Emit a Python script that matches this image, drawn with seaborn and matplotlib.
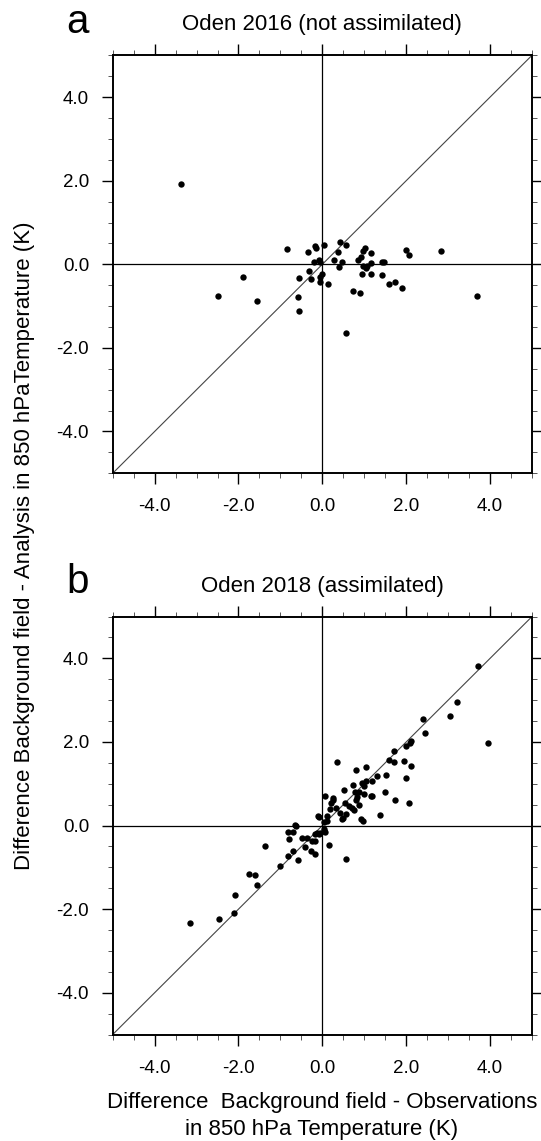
import numpy as np
import pandas as pd
import seaborn as sns
from matplotlib import pyplot as plt
from matplotlib.ticker import MultipleLocator, FormatStrFormatter

# background - observations (x) vs background - analysis (y), 850 hPa temperature (K)
oden2016_bg_obs = [
    -3.38, -0.84, -0.34, -0.17, -0.16, 0.05, 0.41, 0.38, 0.56, 1.02, 0.96, 1.16, 0.92,
    0.86, 2.00, 2.07, 2.83, -0.19, -0.08, -0.06, 0.28, 0.47, 0.40, 0.98, 1.04, 1.15,
    1.42, 1.48, 0.94, 1.16, 1.42, -0.31, 0.00, -0.55, -0.26, -0.06, -0.06, 0.14, -1.90,
    1.60, 1.74, 1.90, 0.72, 0.90, -2.48, -1.55, -0.58, -0.55, 0.56, 3.68, 1.06,
]
oden2016_bg_ana = [
    1.92, 0.37, 0.29, 0.44, 0.40, 0.47, 0.53, 0.30, 0.46, 0.40, 0.32, 0.26, 0.18,
    0.10, 0.35, 0.22, 0.31, 0.06, 0.11, 0.06, 0.10, 0.06, -0.06, -0.04, -0.10, 0.03,
    0.06, 0.06, -0.24, -0.22, -0.25, -0.16, -0.22, -0.33, -0.36, -0.31, -0.42, -0.47, -0.30,
    -0.48, -0.42, -0.57, -0.65, -0.68, -0.76, -0.88, -0.78, -1.11, -1.65, -0.77, -0.04,
]

oden2018_bg_obs = [
    3.71, 3.21, 3.05, 2.39, 2.46, 3.96, 2.12, 2.09, 2.00, 1.72, 1.58, 1.71, 1.95, 2.12,
    0.36, 0.80, 1.05, 1.30, 1.52, 1.99, 1.18, 1.03, 0.94, 0.72, 1.00, 0.51, 1.50, 0.79,
    0.88, 1.00, 1.19, 1.15, 0.06, 0.25, 0.82, 1.74,
    2.07, 0.20, 0.25, 0.32, 0.18, 0.53, 0.63, 0.71, 0.76, 0.87, 0.80, 0.42, 0.57, 0.47,
    0.50, 0.92, 0.98, 1.38, -0.10, -0.09, 0.12, 0.11, 0.05, -0.64, -0.63, -0.83, -0.71,
    -0.80, -0.49, -0.37, -0.18, -0.12, -0.09, 0.05, 0.06, 0.03, -0.06, -0.25, -0.18,
    -0.41, -0.28, -0.18, -0.70, -0.82, -0.58, 0.15, 0.57, -1.36, -1.01, -1.74, -1.60,
    -1.56, -2.08, -2.10, -2.47, -3.16,
]
oden2018_bg_ana = [
    3.81, 2.96, 2.62, 2.56, 2.22, 1.98, 2.02, 1.97, 1.91, 1.78, 1.58, 1.52, 1.54, 1.42,
    1.52, 1.32, 1.41, 1.18, 1.20, 1.14, 1.06, 1.06, 1.01, 0.96, 0.94, 0.84, 0.80, 0.80,
    0.80, 0.76, 0.71, 0.70, 0.70, 0.67, 0.69, 0.61,
    0.54, 0.55, 0.60, 0.43, 0.40, 0.53, 0.47, 0.42, 0.37, 0.49, 0.60, 0.29, 0.27, 0.16,
    0.19, 0.15, 0.12, 0.25, 0.24, 0.20, 0.23, 0.11, 0.09, 0.02, -0.01, -0.16, -0.16,
    -0.33, -0.29, -0.29, -0.20, -0.17, -0.19, -0.09, -0.16, -0.12, -0.18, -0.37, -0.37,
    -0.52, -0.60, -0.69, -0.60, -0.72, -0.82, -0.46, -0.81, -0.49, -0.96, -1.16, -1.19,
    -1.42, -1.66, -2.10, -2.24, -2.32,
]

panel_letters = ["a", "b"]
panel_titles = ["Oden 2016 (not assimilated)", "Oden 2018 (assimilated)"]
major_ticks = [-4.0, -2.0, 0.0, 2.0, 4.0]

plt.rcParams["font.family"] = ["Liberation Sans", "DejaVu Sans"]

fig = plt.figure(figsize=(5.41, 11.41), dpi=100)
ax_a = fig.add_axes([0.2083, 0.5852, 0.775, 0.3663])
ax_b = fig.add_axes([0.2083, 0.0933, 0.775, 0.3663])

panels = [
    (ax_a, oden2016_bg_obs, oden2016_bg_ana),
    (ax_b, oden2018_bg_obs, oden2018_bg_ana),
]

for i, (ax, xs, ys) in enumerate(panels):
    df = pd.DataFrame({"bg_obs": xs, "bg_ana": ys})
    ax.axline((0, 0), slope=1, color="#444444", lw=0.8, zorder=1)
    ax.axhline(0, color="black", lw=0.9, zorder=1)
    ax.axvline(0, color="black", lw=0.9, zorder=1)
    sns.scatterplot(data=df, x="bg_obs", y="bg_ana", ax=ax, color="black",
                    s=21, linewidth=0, zorder=3)

    ax.set_xlim(-5, 5)
    ax.set_ylim(-5, 5)
    ax.set_xticks(major_ticks)
    ax.set_yticks(major_ticks)
    ax.xaxis.set_minor_locator(MultipleLocator(0.5))
    ax.yaxis.set_minor_locator(MultipleLocator(0.5))
    ax.xaxis.set_major_formatter(FormatStrFormatter("%.1f"))
    ax.yaxis.set_major_formatter(FormatStrFormatter("%.1f"))
    ax.tick_params(which="both", direction="out", top=True, right=True)
    ax.tick_params(axis="x", which="major", pad=10)
    ax.tick_params(which="major", length=8, width=1.0, labelsize=13.5)
    ax.tick_params(axis="y", which="major", pad=9)
    ax.tick_params(which="minor", length=3.6, width=0.7, color="#555555")
    for sp in ax.spines.values():
        sp.set_linewidth(1.4)
    ax.set_xlabel("")
    ax.set_ylabel("")
    ax.set_title(panel_titles[i], fontsize=16, pad=18)

fig.text(0.123, 0.971, panel_letters[0], fontsize=29, ha="left", va="baseline")
fig.text(0.123, 0.480, panel_letters[1], fontsize=29, ha="left", va="baseline")

fig.text(0.0444, 0.522,
         "Difference Background field - Analysis in 850 hPaTemperature (K)",
         fontsize=16, rotation=90, ha="center", va="center")
fig.text(0.595, 0.029, "Difference  Background field - Observations",
         fontsize=16, ha="center", va="baseline")
fig.text(0.595, 0.0055, "in 850 hPa Temperature (K)",
         fontsize=16, ha="center", va="baseline")

fig.savefig("out.png", dpi=100)
